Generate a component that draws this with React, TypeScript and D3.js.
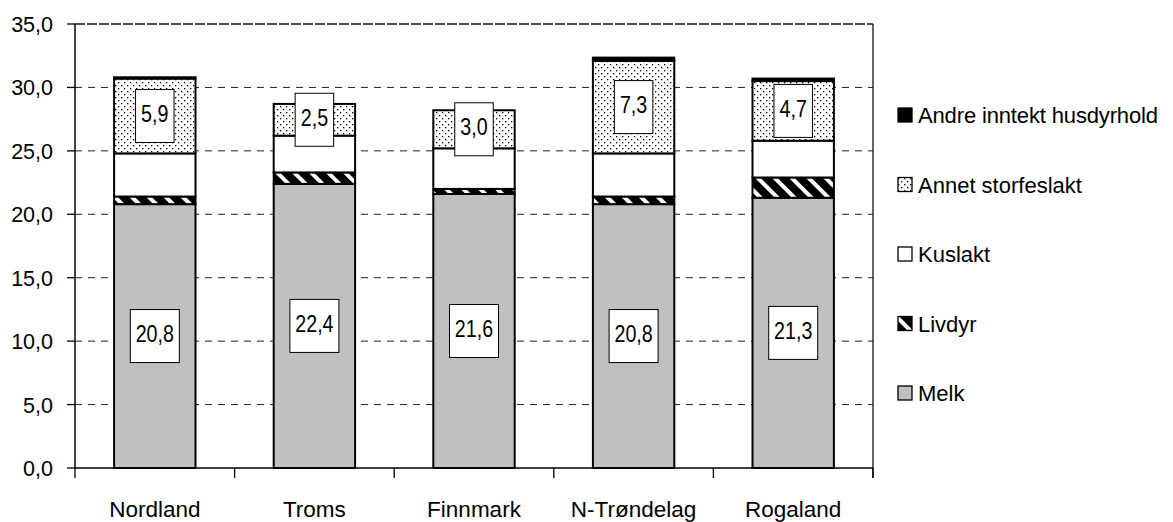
import React from 'react';
import * as d3 from 'd3';

const categories = ['Nordland', 'Troms', 'Finnmark', 'N-Trøndelag', 'Rogaland'];
const series = ['Melk', 'Livdyr', 'Kuslakt', 'Annet storfeslakt', 'Andre inntekt husdyrhold'];

const melk = [20.8, 22.4, 21.6, 20.8, 21.3];
const livdyr = [0.6, 0.9, 0.4, 0.6, 1.6];
const kuslakt = [3.4, 2.9, 3.2, 3.4, 2.9];
const annet = [5.9, 2.5, 3.0, 7.3, 4.7];
const andre = [0.1, 0.0, 0.0, 0.25, 0.2];

const yTicks = [0, 5, 10, 15, 20, 25, 30, 35];

const W = 1173;
const H = 522;
const margin = {top: 24, left: 75, right: 300, bottom: 54};

const fills = ['#c0c0c0', 'url(#stripes)', '#ffffff', 'url(#dots)', '#000000'];
const fmt = (v: number) => d3.format('.1f')(v).replace('.', ',');

export default function App() {
  const x = d3.scaleBand()
    .domain(categories)
    .range([margin.left, W - margin.right])
    .paddingInner(0.49)
    .paddingOuter(0.245);

  const y = d3.scaleLinear()
    .domain([0, 35])
    .range([H - margin.bottom, margin.top]);

  const rows = categories.map((c, i) => ({
    cat: c,
    'Melk': melk[i],
    'Livdyr': livdyr[i],
    'Kuslakt': kuslakt[i],
    'Annet storfeslakt': annet[i],
    'Andre inntekt husdyrhold': andre[i],
  }));
  const stacked = d3.stack<any>().keys(series)(rows);

  const x0 = margin.left;
  const x1 = W - margin.right;
  const step = x.step();
  const boundaries = d3.range(categories.length + 1).map(k => x0 + k * step);

  const font = "'Liberation Sans', Arial, sans-serif";

  // labels shown for Melk and Annet storfeslakt
  const labelLayers = [0, 3];

  const legendItems = series.slice().reverse();

  return (
    <svg width={W} height={H} style={{position: 'absolute', left: 0, top: 0, display: 'block', background: '#fff'}}>
      <defs>
        <pattern id="stripes" width="12" height="12" patternUnits="userSpaceOnUse" patternTransform="rotate(-45)">
          <rect width="12" height="12" fill="#000" />
          <rect x="0" y="0" width="4" height="12" fill="#fff" />
        </pattern>
        <pattern id="dots" width="6" height="6" patternUnits="userSpaceOnUse">
          <rect width="6" height="6" fill="#fff" />
          <rect x="1" y="1" width="1.3" height="1.3" fill="#000" />
          <rect x="4" y="4" width="1.3" height="1.3" fill="#000" />
        </pattern>
      </defs>

      {/* grid lines */}
      {yTicks.filter(t => t > 0 && t < 35).map(t => (
        <line key={'g' + t} x1={x0} x2={x1} y1={y(t)} y2={y(t)}
          stroke="#222" strokeWidth={1} strokeDasharray="7,6" />
      ))}
      <line x1={x0} x2={x1} y1={y(35)} y2={y(35)} stroke="#111" strokeWidth={1.3} strokeDasharray="10,2" />
      <line x1={x1} x2={x1} y1={y(35)} y2={y(0) + 10} stroke="#111" strokeWidth={1.3} />

      {/* bars */}
      {stacked.map((layer, li) => (
        <g key={layer.key}>
          {layer.map((d, i) => (
            <rect key={i}
              x={x(categories[i])}
              y={y(d[1])}
              width={x.bandwidth()}
              height={Math.max(0, y(d[0]) - y(d[1]))}
              fill={fills[li]}
              stroke="#000" strokeWidth={2} />
          ))}
        </g>
      ))}

      {/* data labels */}
      {labelLayers.map(li => stacked[li].map((d, i) => {
        const v = d[1] - d[0];
        const cx = x(categories[i])! + x.bandwidth() / 2;
        const cy = y((d[0] + d[1]) / 2);
        const txt = fmt(v);
        const tw = txt.length === 3 ? 27.5 : 38;
        const bw = tw + 11;
        return (
          <g key={'l' + li + '-' + i}>
            <rect x={cx - bw / 2} y={cy - 26.5} width={bw} height={53} fill="#fff" stroke="#000" strokeWidth={1} />
            <text transform={`translate(${cx},${cy + 6}) scale(0.82,1)`} textAnchor="middle"
              fontFamily={font} fontSize={24} fill="#000">{txt}</text>
          </g>
        );
      }))}

      {/* axes */}
      <line x1={x0} x2={x0} y1={y(35)} y2={y(0)} stroke="#000" strokeWidth={1.5} />
      <line x1={x0} x2={x1} y1={y(0)} y2={y(0)} stroke="#000" strokeWidth={1.5} />
      {yTicks.map(t => (
        <g key={'yt' + t}>
          <line x1={x0 - 8} x2={x0} y1={y(t)} y2={y(t)} stroke="#000" strokeWidth={1.3} />
          <text x={x0 - 22} y={y(t) + 8} textAnchor="end" fontFamily={font} fontSize={21.5} fill="#000">{fmt(t)}</text>
        </g>
      ))}
      {boundaries.map((bx, k) => (
        <line key={'xt' + k} x1={bx} x2={bx} y1={y(0)} y2={y(0) + 10} stroke="#000" strokeWidth={1.3} />
      ))}
      {categories.map(c => (
        <text key={'c' + c} x={x(c)! + x.bandwidth() / 2} y={517} textAnchor="middle"
          fontFamily={font} fontSize={22.5} fill="#000">{c}</text>
      ))}

      {/* legend */}
      {legendItems.map((s, i) => {
        const cy = 115 + i * 69.5;
        const li = series.indexOf(s);
        return (
          <g key={'lg' + s}>
            <rect x={898} y={cy - 7} width={14} height={14} fill={fills[li]} stroke="#000" strokeWidth={1.3} />
            <text x={918} y={cy + 8} fontFamily={font} fontSize={22} fill="#000"
              textLength={s === 'Andre inntekt husdyrhold' ? 240 : undefined}>{s}</text>
          </g>
        );
      })}
    </svg>
  );
}
